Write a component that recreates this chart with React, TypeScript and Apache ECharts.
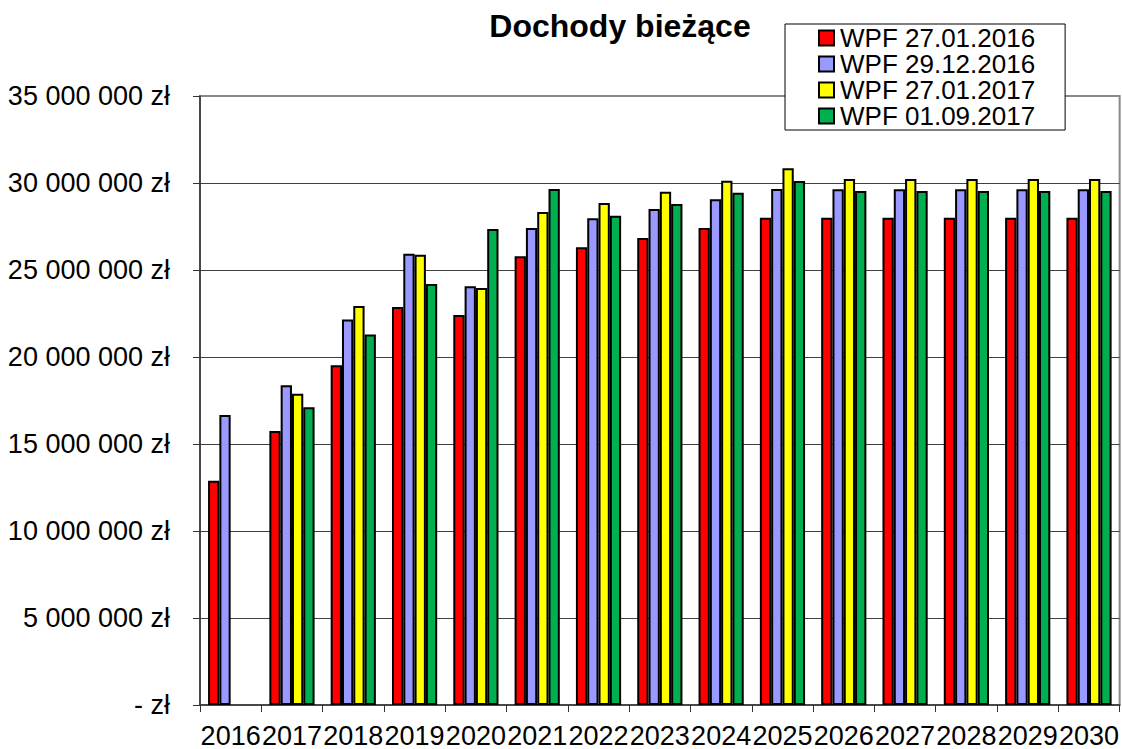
import React, { useEffect, useRef } from "react";
import * as echarts from "echarts";

const categories = ["2016", "2017", "2018", "2019", "2020", "2021", "2022", "2023", "2024", "2025", "2026", "2027", "2028", "2029", "2030"];
const seriesNames = ["WPF 27.01.2016", "WPF 29.12.2016", "WPF 27.01.2017", "WPF 01.09.2017"];
const wpf20160127 = [12890000, 15750000, 19530000, 22870000, 22410000, 25790000, 26310000, 26840000, 27420000, 28010000, 28010000, 28010000, 28010000, 28010000, 28010000];
const wpf20161229 = [16670000, 18370000, 22150000, 25930000, 24060000, 27420000, 27970000, 28500000, 29060000, 29650000, 29640000, 29640000, 29640000, 29640000, 29640000];
const wpf20170127 = [null, 17890000, 22930000, 25870000, 23960000, 28330000, 28850000, 29500000, 30130000, 30850000, 30230000, 30230000, 30230000, 30230000, 30230000];
const wpf20170901 = [null, 17110000, 21290000, 24190000, 27360000, 29650000, 28120000, 28790000, 29440000, 30110000, 29540000, 29540000, 29540000, 29540000, 29540000];
const colors = ["#FF0000", "#9999FF", "#FFFF00", "#00B050"];
const yTicks = { min: 0, max: 35000000, interval: 5000000 };

const FONT = "'Liberation Sans', Arial, sans-serif";

function fmt(v: number): string {
  if (v === 0) return "- zł";
  return String(v).replace(/\B(?=(\d{3})+(?!\d))/g, " ") + " zł";
}

export default function App() {
  const ref = useRef<HTMLDivElement>(null);
  useEffect(() => {
    if (!ref.current) return;
    const chart = echarts.init(ref.current, null, { renderer: "svg" });
    const data = [wpf20160127, wpf20161229, wpf20170127, wpf20170901];
    chart.setOption({
      animation: false,
      backgroundColor: "#ffffff",
      textStyle: { fontFamily: FONT },
      grid: {
        left: 200,
        right: 1,
        top: 96,
        bottom: 43,
        show: true,
        borderColor: "#888888",
        borderWidth: 2,
        backgroundColor: "transparent",
      },
      graphic: [
        {
          type: "text",
          x: 620,
          y: 26,
          z: 10,
          style: {
            text: "Dochody bieżące",
            font: "bold 32px " + FONT,
            fill: "#000",
            textAlign: "center",
            textVerticalAlign: "middle",
          },
        },
      ],
      legend: {
        orient: "vertical",
        left: 785,
        top: 24,
        width: 287,
        padding: [1, 30, 1, 33],
        itemGap: 0,
        itemWidth: 15,
        itemHeight: 15,
        backgroundColor: "#ffffff",
        borderColor: "#000000",
        borderWidth: 1,
        icon: "rect",
        textStyle: { fontSize: 26, fontFamily: FONT, color: "#000", lineHeight: 26, padding: [0, 0, 0, 1] },
        data: seriesNames,
      },
      xAxis: {
        type: "category",
        data: categories,
        axisLine: { show: true, lineStyle: { color: "#333", width: 1.5 } },
        axisTick: { show: true, length: 7, lineStyle: { color: "#333" }, alignWithLabel: false },
        axisLabel: { fontSize: 27, color: "#000", margin: 17, fontFamily: FONT, interval: 0 },
        splitLine: { show: false },
      },
      yAxis: {
        type: "value",
        min: yTicks.min,
        max: yTicks.max,
        interval: yTicks.interval,
        axisLine: { show: true, lineStyle: { color: "#333", width: 1.5 } },
        axisTick: { show: true, length: 7, lineStyle: { color: "#333" } },
        axisLabel: { fontSize: 27, color: "#000", margin: 30, fontFamily: FONT, formatter: fmt },
        splitLine: { show: true, showMaxLine: false, showMinLine: false, lineStyle: { color: "#404040", width: 1 } },
      },
      series: data.map((d, i) => ({
        name: seriesNames[i],
        type: "bar",
        data: d,
        barWidth: 11.3,
        barGap: "0%",
        itemStyle: { color: colors[i], borderColor: "#000", borderWidth: 2 },
      })),
    });
    return () => chart.dispose();
  }, []);
  return <div ref={ref} style={{ position: "absolute", left: 0, top: 0, width: 1122, height: 749 }} />;
}
